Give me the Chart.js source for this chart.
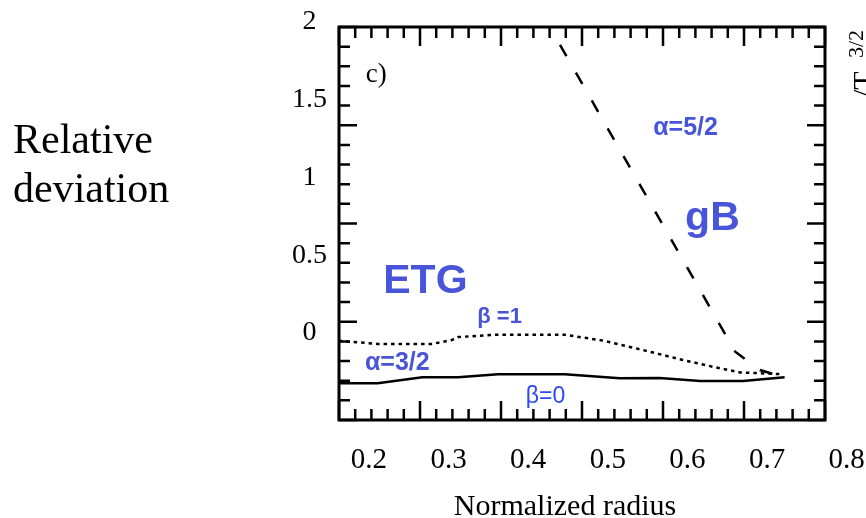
<!DOCTYPE html>
<html>
<head>
<meta charset="utf-8">
<script src="https://cdn.jsdelivr.net/npm/chart.js@4.4.1/dist/chart.umd.min.js"></script>
<style>
  html, body { margin: 0; padding: 0; background: #fff; }
  #wrap { position: relative; width: 866px; height: 518px; }
</style>
</head>
<body>
<div id="wrap"><canvas id="chart" width="866" height="518"></canvas></div>
<script>
// ─── Data ────────────────────────────────────────────────────────────────────
const xTicks = [0.2, 0.3, 0.4, 0.5, 0.6, 0.7, 0.8];
const yTicks = [0, 0.5, 1, 1.5, 2];

// ETG, beta = 1 (dotted)
const etgB1X = [0.162, 0.211, 0.279, 0.304, 0.312, 0.358, 0.446, 0.494, 0.544, 0.594, 0.632, 0.666, 0.720];
const etgB1Y = [-0.05, -0.07, -0.07, -0.045, -0.026, -0.011, -0.011, -0.049, -0.109, -0.173, -0.217, -0.253, -0.265];

// ETG, beta = 0 (solid)
const etgB0X = [0.162, 0.211, 0.267, 0.312, 0.362, 0.446, 0.515, 0.565, 0.616, 0.670, 0.722];
const etgB0Y = [-0.323, -0.323, -0.285, -0.285, -0.265, -0.265, -0.291, -0.289, -0.308, -0.308, -0.285];

// gyro-Bohm (dashed)
const gbX = [0.420, 0.660, 0.691, 0.720];
const gbY = [2.03, -0.12, -0.238, -0.283];

// visible window of the plot
const xRange = [0.1624, 0.7727];
const yRange = [-0.559, 1.9666];

// ─── Styling ─────────────────────────────────────────────────────────────────
const SERIF = '"Liberation Serif", "Times New Roman", serif';
const SANS  = '"Liberation Sans", Arial, sans-serif';
const BLUE  = '#4855d8';
const BLUE2 = '#2c46f2';

const pts = (xs, ys) => xs.map((x, i) => ({ x, y: ys[i] }));

// text annotations, placed in data units
const notes = [
  { text: 'c)',    x: 0.196, y: 1.613,  font: `27px ${SERIF}`,      color: '#000' },
  { text: 'α=5/2', x: 0.557, y: 1.272,  font: `bold 25px ${SANS}`,  color: BLUE },
  { text: 'gB',    x: 0.597, y: 0.662,  font: `bold 41px ${SANS}`,  color: BLUE },
  { text: 'ETG',   x: 0.218, y: 0.257,  font: `bold 41px ${SANS}`,  color: BLUE },
  { text: 'β =1',  x: 0.336, y: 0.064,  font: `bold 22px ${SANS}`,  color: BLUE },
  { text: 'α=3/2', x: 0.195, y: -0.238, font: `bold 25px ${SANS}`,  color: BLUE },
  { text: 'β=0',   x: 0.397, y: -0.450, font: `23px ${SANS}`,       color: BLUE2 },
];

// ─── Plugins ─────────────────────────────────────────────────────────────────
// box frame with inward major/minor ticks on all four sides
const framePlugin = {
  id: 'frame',
  afterDatasetsDraw(chart) {
    const { ctx, chartArea: a, scales } = chart;
    const xf = scales.xf, yf = scales.yf;
    const seg = (x1, y1, x2, y2) => { ctx.moveTo(x1, y1); ctx.lineTo(x2, y2); };
    ctx.save();
    ctx.strokeStyle = '#000';
    ctx.lineWidth = 2.5;
    ctx.beginPath();
    for (let i = 0; i <= 30; i++) {
      const len = i % 5 ? 11 : 19;
      const px = xf.getPixelForValue(i / 5);
      seg(px, a.top, px, a.top + len);
      seg(px, a.bottom, px, a.bottom - len);
    }
    for (let i = 0; i <= 20; i++) {
      const len = i % 5 ? 11 : 18;
      const py = yf.getPixelForValue(i / 5);
      seg(a.left, py, a.left + len, py);
      seg(a.right, py, a.right - len, py);
    }
    ctx.stroke();
    ctx.lineWidth = 3;
    ctx.strokeRect(a.left, a.top, a.right - a.left, a.bottom - a.top);
    ctx.restore();
  }
};

const textPlugin = {
  id: 'notes',
  afterDraw(chart) {
    const { ctx, scales } = chart;
    ctx.save();
    ctx.textAlign = 'left';
    ctx.textBaseline = 'alphabetic';
    notes.forEach(n => {
      ctx.font = n.font;
      ctx.fillStyle = n.color;
      ctx.fillText(n.text, scales.x.getPixelForValue(n.x), scales.y.getPixelForValue(n.y));
    });

    // axis titles
    ctx.fillStyle = '#000';
    ctx.font = `42px ${SERIF}`;
    ctx.fillText('Relative', 13, 153);
    ctx.fillText('deviation', 13, 202);
    ctx.font = `30px ${SERIF}`;
    ctx.textAlign = 'center';
    ctx.fillText('Normalized radius', 565, 515);

    // edge of the neighbouring panel's label
    ctx.translate(873, 98);
    ctx.rotate(-Math.PI / 2);
    ctx.textAlign = 'left';
    ctx.font = `30px ${SERIF}`;
    ctx.fillText('/T', 0, 0);
    ctx.font = `22px ${SERIF}`;
    ctx.fillText('3/2', 40, -10);
    ctx.restore();
  }
};

// ─── Chart ───────────────────────────────────────────────────────────────────
new Chart(document.getElementById('chart'), {
  type: 'line',
  data: {
    datasets: [
      { label: 'gB',  data: pts(gbX, gbY),       borderColor: '#000', borderWidth: 2.5, borderDash: [13, 19] },
      { label: 'β=1', data: pts(etgB1X, etgB1Y), borderColor: '#000', borderWidth: 2.5, borderDash: [3.5, 4] },
      { label: 'β=0', data: pts(etgB0X, etgB0Y), borderColor: '#000', borderWidth: 2.5 },
    ]
  },
  options: {
    responsive: false,
    devicePixelRatio: 1,
    animation: false,
    layout: { padding: { top: 27, right: 41, left: 0, bottom: 0 } },
    elements: { point: { radius: 0 }, line: { tension: 0, fill: false } },
    plugins: { legend: { display: false }, tooltip: { enabled: false } },
    scales: {
      x: {
        type: 'linear', position: 'bottom', min: xRange[0], max: xRange[1],
        grid: { display: false }, border: { display: false },
        afterBuildTicks: s => { s.ticks = xTicks.map(v => ({ value: v })); },
        afterFit: s => { s.height = 98; s.paddingLeft = 0; s.paddingRight = 0; },
        ticks: { autoSkip: false, maxRotation: 0, padding: 15, color: '#000',
                 font: { family: SERIF, size: 29 }, callback: v => String(v) }
      },
      y: {
        type: 'linear', position: 'left', min: yRange[0], max: yRange[1],
        grid: { display: false }, border: { display: false },
        afterBuildTicks: s => { s.ticks = yTicks.map(v => ({ value: v })); },
        afterFit: s => { s.width = 339; s.paddingTop = 0; s.paddingBottom = 0; },
        ticks: { autoSkip: false, crossAlign: 'center', padding: 4, color: '#000',
                 font: { family: SERIF, size: 28 }, callback: v => String(v) }
      },
      // frame scales carrying the tick-mark grid
      xf: { type: 'linear', display: false, position: 'bottom', min: 0, max: 6 },
      yf: { type: 'linear', display: false, position: 'left', min: 0, max: 4 }
    }
  },
  plugins: [framePlugin, textPlugin]
});
</script>
</body>
</html>
